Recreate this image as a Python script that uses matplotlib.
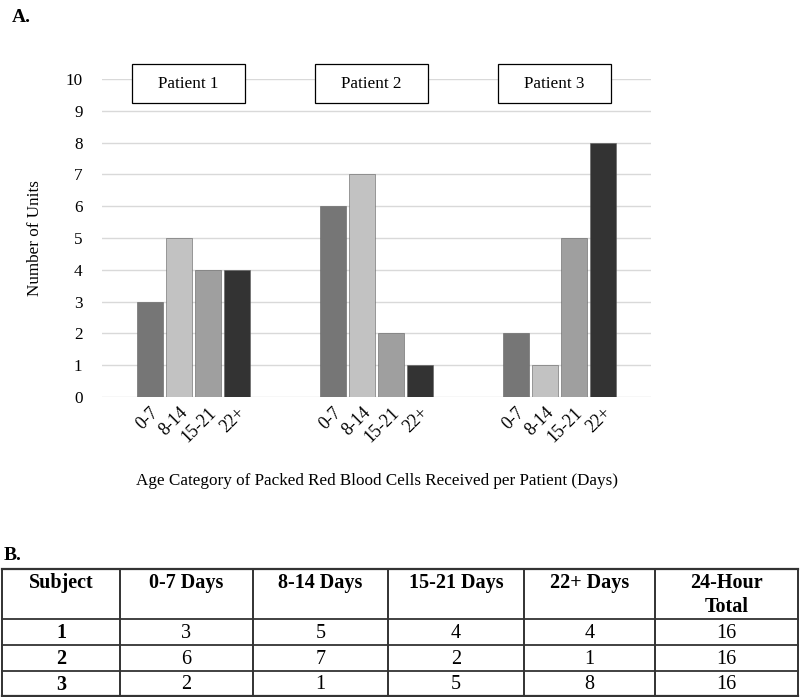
import numpy as np
import matplotlib
matplotlib.use("Agg")
import matplotlib.pyplot as plt
from matplotlib.patches import Rectangle

patients = ["Patient 1", "Patient 2", "Patient 3"]
age_cats = ["0-7", "8-14", "15-21", "22+"]
units_0_7 = [3, 6, 2]
units_8_14 = [5, 7, 1]
units_15_21 = [4, 2, 5]
units_22 = [4, 1, 8]
bar_colors = ["#767676", "#c2c2c2", "#9f9f9f", "#333333"]

table_header = ["Subject", "0-7 Days", "8-14 Days", "15-21 Days", "22+ Days", "24-Hour\nTotal"]
subjects = ["1", "2", "3"]
totals = [16, 16, 16]

serif = ["Liberation Serif", "DejaVu Serif"]
fs = 12.3

fig = plt.figure(figsize=(8, 6.97), dpi=100)
W, H = 800, 697

# ---- panel A: bar chart ----
ax = fig.add_axes([102 / W, 1 - 397 / H, (651 - 102) / W, (397 - 79) / H])
series = [units_0_7, units_8_14, units_15_21, units_22]
width = 26 / 183
step = 29 / 183
tick_pos, tick_lab = [], []
for g in range(len(patients)):
    center = g + 0.5
    for i, vals in enumerate(series):
        x = center + (i - 1.5) * step
        ax.bar(x, vals[g], width=width, color=bar_colors[i], edgecolor="#5f5f5f",
               linewidth=0.4, zorder=3)
        tick_pos.append(x)
        tick_lab.append(age_cats[i])

ax.set_xlim(0, 3)
ax.set_ylim(0, 10)
ax.set_yticks(range(0, 11))
ax.set_yticklabels([str(v) for v in range(0, 11)], family=serif, fontsize=fs)
ax.set_xticks(tick_pos)
ax.set_xticklabels(tick_lab, rotation=45, ha="right", rotation_mode="anchor",
                   family=serif, fontsize=fs + 0.5)
ax.tick_params(axis="y", length=0, pad=14)
ax.tick_params(axis="x", length=0, pad=5)
ax.grid(axis="y", color="#d9d9d9", linewidth=1, zorder=0)
ax.set_axisbelow(True)
for s in ax.spines.values():
    s.set_visible(False)
ax.set_ylabel("Number of Units", family=serif, fontsize=fs, labelpad=16)
ax.set_xlabel("Age Category of Packed Red Blood Cells Received per Patient (Days)",
              family=serif, fontsize=fs, labelpad=20)

# patient boxes
for g, name in enumerate(patients):
    cx = g + 0.5 - 0.03
    bw = 113 / 183
    ax.add_patch(Rectangle((cx - bw / 2, 9.24), bw, 1.23, facecolor="white",
                           edgecolor="black", linewidth=0.9, clip_on=False, zorder=5))
    ax.text(cx, 9.855, name, ha="center", va="center", family=serif,
            fontsize=fs, zorder=6)

fig.text(12 / W, 1 - 18 / H, "A.", family=serif, fontsize=14, fontweight="bold",
         va="center")

# ---- panel B: table ----
tx = fig.add_axes([0, 0, 1, 1])
tx.set_xlim(0, W)
tx.set_ylim(H, 0)
tx.axis("off")
fig.text(4 / W, 1 - 556 / H, "B.", family=serif, fontsize=14, fontweight="bold",
         va="center")

col_edges = [2, 120, 253, 388, 524, 655, 798]
row_edges = [569, 619, 645, 671, 696]
for x in col_edges:
    tx.plot([x, x], [row_edges[0], row_edges[-1]], color="#222222", lw=1.3)
for j, y in enumerate(row_edges):
    lw = 1.6 if j in (0, len(row_edges) - 1) else 1.3
    tx.plot([col_edges[0], col_edges[-1]], [y, y], color="#333333", lw=lw)

col_centers = [(a + b) / 2 for a, b in zip(col_edges[:-1], col_edges[1:])]
for c, txt in enumerate(table_header):
    lines = txt.split("\n")
    for k, line in enumerate(lines):
        tx.text(col_centers[c], 583 + 24 * k, line, ha="center", va="center",
                family=serif, fontsize=14.5, fontweight="bold")

for r in range(len(subjects)):
    yc = (row_edges[r + 1] + row_edges[r + 2]) / 2
    row = [subjects[r], units_0_7[r], units_8_14[r], units_15_21[r], units_22[r], totals[r]]
    for c, v in enumerate(row):
        tx.text(col_centers[c], yc + 1, str(v), ha="center", va="center", family=serif,
                fontsize=14.5, fontweight="bold" if c == 0 else "normal")

fig.savefig("out.png", dpi=100)
